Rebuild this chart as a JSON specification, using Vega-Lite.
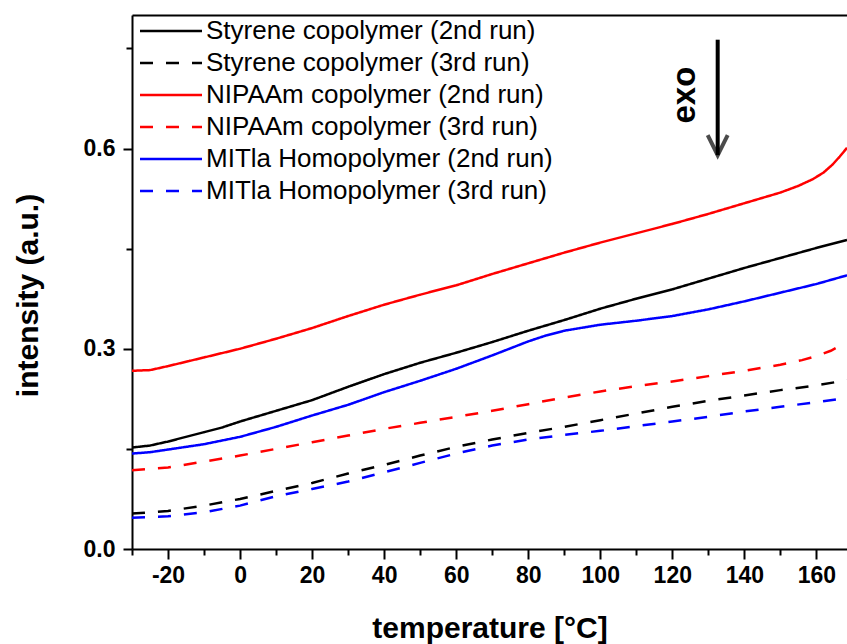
{
  "$schema": "https://vega.github.io/schema/vega-lite/v6.json",
  "width": 715,
  "height": 534,
  "autosize": {"type": "none"},
  "padding": {"left": 132, "top": 15, "right": 0, "bottom": 95},
  "background": "white",
  "config": {
    "view": {"stroke": null},
    "font": "Liberation Sans",
    "axis": {"grid": false, "domainColor": "black", "domainWidth": 2, "tickColor": "black", "tickWidth": 2, "labelColor": "black", "titleColor": "black", "labelFont": "Liberation Sans", "titleFont": "Liberation Sans", "labelFontWeight": "bold", "titleFontWeight": "bold", "labelFontSize": 23, "titleFontSize": 30},
    "legend": {"orient": "none", "legendX": 22, "legendY": -1, "symbolType": "M-2,0H2", "symbolSize": 961, "symbolStrokeWidth": 2.5, "labelFontSize": 26, "labelFont": "Liberation Sans", "labelColor": "black", "labelOffset": 18, "rowPadding": 2, "labelLimit": 600}
  },
  "datasets": {
    "curves": [
      {"series": "Styrene copolymer (2nd run)", "T": -30, "v": 0.152},
      {"series": "Styrene copolymer (2nd run)", "T": -25, "v": 0.155},
      {"series": "Styrene copolymer (2nd run)", "T": -20, "v": 0.161},
      {"series": "Styrene copolymer (2nd run)", "T": -15, "v": 0.168},
      {"series": "Styrene copolymer (2nd run)", "T": -10, "v": 0.175},
      {"series": "Styrene copolymer (2nd run)", "T": -5, "v": 0.182},
      {"series": "Styrene copolymer (2nd run)", "T": 0, "v": 0.191},
      {"series": "Styrene copolymer (2nd run)", "T": 10, "v": 0.207},
      {"series": "Styrene copolymer (2nd run)", "T": 20, "v": 0.223},
      {"series": "Styrene copolymer (2nd run)", "T": 30, "v": 0.243},
      {"series": "Styrene copolymer (2nd run)", "T": 40, "v": 0.262},
      {"series": "Styrene copolymer (2nd run)", "T": 50, "v": 0.279},
      {"series": "Styrene copolymer (2nd run)", "T": 60, "v": 0.294},
      {"series": "Styrene copolymer (2nd run)", "T": 70, "v": 0.310},
      {"series": "Styrene copolymer (2nd run)", "T": 80, "v": 0.327},
      {"series": "Styrene copolymer (2nd run)", "T": 90, "v": 0.343},
      {"series": "Styrene copolymer (2nd run)", "T": 100, "v": 0.360},
      {"series": "Styrene copolymer (2nd run)", "T": 110, "v": 0.375},
      {"series": "Styrene copolymer (2nd run)", "T": 120, "v": 0.389},
      {"series": "Styrene copolymer (2nd run)", "T": 130, "v": 0.405},
      {"series": "Styrene copolymer (2nd run)", "T": 140, "v": 0.421},
      {"series": "Styrene copolymer (2nd run)", "T": 150, "v": 0.436},
      {"series": "Styrene copolymer (2nd run)", "T": 160, "v": 0.451},
      {"series": "Styrene copolymer (2nd run)", "T": 168.5, "v": 0.463},

      {"series": "Styrene copolymer (3rd run)", "T": -30, "v": 0.053},
      {"series": "Styrene copolymer (3rd run)", "T": -20, "v": 0.057},
      {"series": "Styrene copolymer (3rd run)", "T": -10, "v": 0.065},
      {"series": "Styrene copolymer (3rd run)", "T": 0, "v": 0.075},
      {"series": "Styrene copolymer (3rd run)", "T": 10, "v": 0.087},
      {"series": "Styrene copolymer (3rd run)", "T": 20, "v": 0.099},
      {"series": "Styrene copolymer (3rd run)", "T": 30, "v": 0.113},
      {"series": "Styrene copolymer (3rd run)", "T": 40, "v": 0.126},
      {"series": "Styrene copolymer (3rd run)", "T": 50, "v": 0.140},
      {"series": "Styrene copolymer (3rd run)", "T": 60, "v": 0.153},
      {"series": "Styrene copolymer (3rd run)", "T": 70, "v": 0.164},
      {"series": "Styrene copolymer (3rd run)", "T": 80, "v": 0.174},
      {"series": "Styrene copolymer (3rd run)", "T": 90, "v": 0.183},
      {"series": "Styrene copolymer (3rd run)", "T": 100, "v": 0.193},
      {"series": "Styrene copolymer (3rd run)", "T": 110, "v": 0.203},
      {"series": "Styrene copolymer (3rd run)", "T": 120, "v": 0.213},
      {"series": "Styrene copolymer (3rd run)", "T": 130, "v": 0.222},
      {"series": "Styrene copolymer (3rd run)", "T": 140, "v": 0.230},
      {"series": "Styrene copolymer (3rd run)", "T": 150, "v": 0.238},
      {"series": "Styrene copolymer (3rd run)", "T": 160, "v": 0.245},
      {"series": "Styrene copolymer (3rd run)", "T": 168.5, "v": 0.253},

      {"series": "NIPAAm copolymer (2nd run)", "T": -30, "v": 0.267},
      {"series": "NIPAAm copolymer (2nd run)", "T": -25, "v": 0.268},
      {"series": "NIPAAm copolymer (2nd run)", "T": -20, "v": 0.274},
      {"series": "NIPAAm copolymer (2nd run)", "T": -10, "v": 0.287},
      {"series": "NIPAAm copolymer (2nd run)", "T": 0, "v": 0.300},
      {"series": "NIPAAm copolymer (2nd run)", "T": 10, "v": 0.315},
      {"series": "NIPAAm copolymer (2nd run)", "T": 20, "v": 0.331},
      {"series": "NIPAAm copolymer (2nd run)", "T": 30, "v": 0.349},
      {"series": "NIPAAm copolymer (2nd run)", "T": 40, "v": 0.366},
      {"series": "NIPAAm copolymer (2nd run)", "T": 50, "v": 0.381},
      {"series": "NIPAAm copolymer (2nd run)", "T": 60, "v": 0.395},
      {"series": "NIPAAm copolymer (2nd run)", "T": 70, "v": 0.412},
      {"series": "NIPAAm copolymer (2nd run)", "T": 80, "v": 0.428},
      {"series": "NIPAAm copolymer (2nd run)", "T": 90, "v": 0.444},
      {"series": "NIPAAm copolymer (2nd run)", "T": 100, "v": 0.459},
      {"series": "NIPAAm copolymer (2nd run)", "T": 110, "v": 0.473},
      {"series": "NIPAAm copolymer (2nd run)", "T": 120, "v": 0.487},
      {"series": "NIPAAm copolymer (2nd run)", "T": 130, "v": 0.502},
      {"series": "NIPAAm copolymer (2nd run)", "T": 140, "v": 0.518},
      {"series": "NIPAAm copolymer (2nd run)", "T": 150, "v": 0.534},
      {"series": "NIPAAm copolymer (2nd run)", "T": 155, "v": 0.544},
      {"series": "NIPAAm copolymer (2nd run)", "T": 159, "v": 0.554},
      {"series": "NIPAAm copolymer (2nd run)", "T": 162, "v": 0.564},
      {"series": "NIPAAm copolymer (2nd run)", "T": 164.5, "v": 0.576},
      {"series": "NIPAAm copolymer (2nd run)", "T": 166.5, "v": 0.588},
      {"series": "NIPAAm copolymer (2nd run)", "T": 168.5, "v": 0.601},

      {"series": "NIPAAm copolymer (3rd run)", "T": -30, "v": 0.118},
      {"series": "NIPAAm copolymer (3rd run)", "T": -20, "v": 0.122},
      {"series": "NIPAAm copolymer (3rd run)", "T": -10, "v": 0.131},
      {"series": "NIPAAm copolymer (3rd run)", "T": 0, "v": 0.140},
      {"series": "NIPAAm copolymer (3rd run)", "T": 10, "v": 0.150},
      {"series": "NIPAAm copolymer (3rd run)", "T": 20, "v": 0.160},
      {"series": "NIPAAm copolymer (3rd run)", "T": 30, "v": 0.170},
      {"series": "NIPAAm copolymer (3rd run)", "T": 40, "v": 0.180},
      {"series": "NIPAAm copolymer (3rd run)", "T": 50, "v": 0.189},
      {"series": "NIPAAm copolymer (3rd run)", "T": 60, "v": 0.198},
      {"series": "NIPAAm copolymer (3rd run)", "T": 70, "v": 0.207},
      {"series": "NIPAAm copolymer (3rd run)", "T": 80, "v": 0.217},
      {"series": "NIPAAm copolymer (3rd run)", "T": 90, "v": 0.227},
      {"series": "NIPAAm copolymer (3rd run)", "T": 100, "v": 0.236},
      {"series": "NIPAAm copolymer (3rd run)", "T": 110, "v": 0.244},
      {"series": "NIPAAm copolymer (3rd run)", "T": 120, "v": 0.251},
      {"series": "NIPAAm copolymer (3rd run)", "T": 130, "v": 0.259},
      {"series": "NIPAAm copolymer (3rd run)", "T": 140, "v": 0.267},
      {"series": "NIPAAm copolymer (3rd run)", "T": 150, "v": 0.276},
      {"series": "NIPAAm copolymer (3rd run)", "T": 156, "v": 0.283},
      {"series": "NIPAAm copolymer (3rd run)", "T": 160, "v": 0.289},
      {"series": "NIPAAm copolymer (3rd run)", "T": 164, "v": 0.297},
      {"series": "NIPAAm copolymer (3rd run)", "T": 168.5, "v": 0.310},

      {"series": "MITla Homopolymer (2nd run)", "T": -30, "v": 0.143},
      {"series": "MITla Homopolymer (2nd run)", "T": -25, "v": 0.145},
      {"series": "MITla Homopolymer (2nd run)", "T": -20, "v": 0.149},
      {"series": "MITla Homopolymer (2nd run)", "T": -10, "v": 0.157},
      {"series": "MITla Homopolymer (2nd run)", "T": 0, "v": 0.168},
      {"series": "MITla Homopolymer (2nd run)", "T": 10, "v": 0.183},
      {"series": "MITla Homopolymer (2nd run)", "T": 20, "v": 0.200},
      {"series": "MITla Homopolymer (2nd run)", "T": 30, "v": 0.216},
      {"series": "MITla Homopolymer (2nd run)", "T": 40, "v": 0.235},
      {"series": "MITla Homopolymer (2nd run)", "T": 50, "v": 0.252},
      {"series": "MITla Homopolymer (2nd run)", "T": 60, "v": 0.270},
      {"series": "MITla Homopolymer (2nd run)", "T": 70, "v": 0.290},
      {"series": "MITla Homopolymer (2nd run)", "T": 80, "v": 0.311},
      {"series": "MITla Homopolymer (2nd run)", "T": 85, "v": 0.320},
      {"series": "MITla Homopolymer (2nd run)", "T": 90, "v": 0.327},
      {"series": "MITla Homopolymer (2nd run)", "T": 100, "v": 0.336},
      {"series": "MITla Homopolymer (2nd run)", "T": 110, "v": 0.342},
      {"series": "MITla Homopolymer (2nd run)", "T": 120, "v": 0.349},
      {"series": "MITla Homopolymer (2nd run)", "T": 130, "v": 0.359},
      {"series": "MITla Homopolymer (2nd run)", "T": 140, "v": 0.371},
      {"series": "MITla Homopolymer (2nd run)", "T": 150, "v": 0.384},
      {"series": "MITla Homopolymer (2nd run)", "T": 160, "v": 0.397},
      {"series": "MITla Homopolymer (2nd run)", "T": 168.5, "v": 0.410},

      {"series": "MITla Homopolymer (3rd run)", "T": -30, "v": 0.047},
      {"series": "MITla Homopolymer (3rd run)", "T": -20, "v": 0.049},
      {"series": "MITla Homopolymer (3rd run)", "T": -10, "v": 0.055},
      {"series": "MITla Homopolymer (3rd run)", "T": 0, "v": 0.065},
      {"series": "MITla Homopolymer (3rd run)", "T": 10, "v": 0.079},
      {"series": "MITla Homopolymer (3rd run)", "T": 20, "v": 0.090},
      {"series": "MITla Homopolymer (3rd run)", "T": 30, "v": 0.101},
      {"series": "MITla Homopolymer (3rd run)", "T": 40, "v": 0.115},
      {"series": "MITla Homopolymer (3rd run)", "T": 50, "v": 0.129},
      {"series": "MITla Homopolymer (3rd run)", "T": 60, "v": 0.143},
      {"series": "MITla Homopolymer (3rd run)", "T": 70, "v": 0.155},
      {"series": "MITla Homopolymer (3rd run)", "T": 80, "v": 0.164},
      {"series": "MITla Homopolymer (3rd run)", "T": 90, "v": 0.171},
      {"series": "MITla Homopolymer (3rd run)", "T": 100, "v": 0.177},
      {"series": "MITla Homopolymer (3rd run)", "T": 110, "v": 0.184},
      {"series": "MITla Homopolymer (3rd run)", "T": 120, "v": 0.191},
      {"series": "MITla Homopolymer (3rd run)", "T": 130, "v": 0.198},
      {"series": "MITla Homopolymer (3rd run)", "T": 140, "v": 0.206},
      {"series": "MITla Homopolymer (3rd run)", "T": 150, "v": 0.213},
      {"series": "MITla Homopolymer (3rd run)", "T": 160, "v": 0.220},
      {"series": "MITla Homopolymer (3rd run)", "T": 168.5, "v": 0.226}
    ],
    "arrow": [{"T": 132.6, "top": 0.763, "tip": 0.590}],
    "label": [{"T": 123.5, "v": 0.680, "text": "exo"}]
  },
  "resolve": {"axis": {"x": "independent", "y": "independent"}},
  "layer": [
    {
      "data": {"name": "curves"},
      "mark": {"type": "line", "strokeWidth": 2.5, "clip": true},
      "encoding": {
        "x": {"field": "T", "type": "quantitative", "scale": {"domain": [-30, 168.5], "nice": false, "zero": false},
          "axis": {"orient": "bottom", "values": [-20, 0, 20, 40, 60, 80, 100, 120, 140, 160], "labelExpr": "'' + datum.value", "tickSize": 10, "labelPadding": 5, "title": "temperature [°C]", "titlePadding": 26}},
        "y": {"field": "v", "type": "quantitative", "scale": {"domain": [0, 0.8], "nice": false},
          "axis": {"orient": "left", "values": [0, 0.3, 0.6], "format": ".1f", "tickSize": 9, "labelPadding": 8, "title": "intensity (a.u.)", "titleX": -104, "titleY": 280, "titleBaseline": "middle", "titleAngle": 270}},
        "color": {"field": "series", "type": "nominal",
          "scale": {"domain": ["Styrene copolymer (2nd run)", "Styrene copolymer (3rd run)", "NIPAAm copolymer (2nd run)", "NIPAAm copolymer (3rd run)", "MITla Homopolymer (2nd run)", "MITla Homopolymer (3rd run)"],
            "range": ["#000000", "#000000", "#ff0000", "#ff0000", "#0000ff", "#0000ff"]},
          "legend": {"title": null}},
        "strokeDash": {"field": "series", "type": "nominal",
          "scale": {"domain": ["Styrene copolymer (2nd run)", "Styrene copolymer (3rd run)", "NIPAAm copolymer (2nd run)", "NIPAAm copolymer (3rd run)", "MITla Homopolymer (2nd run)", "MITla Homopolymer (3rd run)"],
            "range": [[1, 0], [13, 13], [1, 0], [13, 13], [1, 0], [13, 13]]},
          "legend": {"title": null}}
      }
    },
    {
      "data": {"name": "arrow"},
      "mark": {"type": "rule", "strokeWidth": 4, "color": "black"},
      "encoding": {
        "x": {"field": "T", "type": "quantitative", "axis": {"orient": "bottom", "values": [-30, -10, 10, 30, 50, 70, 90, 110, 130, 150], "tickSize": 6, "labels": false, "domain": false, "title": null}},
        "y": {"field": "top", "type": "quantitative", "axis": {"orient": "left", "values": [0.15, 0.45, 0.75], "tickSize": 6, "labels": false, "domain": false, "title": null}},
        "y2": {"field": "tip"}
      }
    },
    {
      "data": {"name": "arrow"},
      "mark": {"type": "point", "shape": "M-0.5,-1L0,0L0.5,-1", "size": 1600, "filled": false, "stroke": "black", "strokeWidth": 4, "strokeJoin": "miter"},
      "encoding": {
        "x": {"field": "T", "type": "quantitative", "axis": {"orient": "top", "ticks": false, "labels": false, "domain": true, "title": null}},
        "y": {"field": "tip", "type": "quantitative", "axis": null}
      }
    },
    {
      "data": {"name": "label"},
      "mark": {"type": "text", "angle": 270, "fontSize": 33, "fontWeight": "bold", "font": "Liberation Sans", "align": "center", "baseline": "middle", "color": "black"},
      "encoding": {
        "x": {"field": "T", "type": "quantitative", "axis": null},
        "y": {"field": "v", "type": "quantitative", "axis": null},
        "text": {"field": "text"}
      }
    }
  ]
}
